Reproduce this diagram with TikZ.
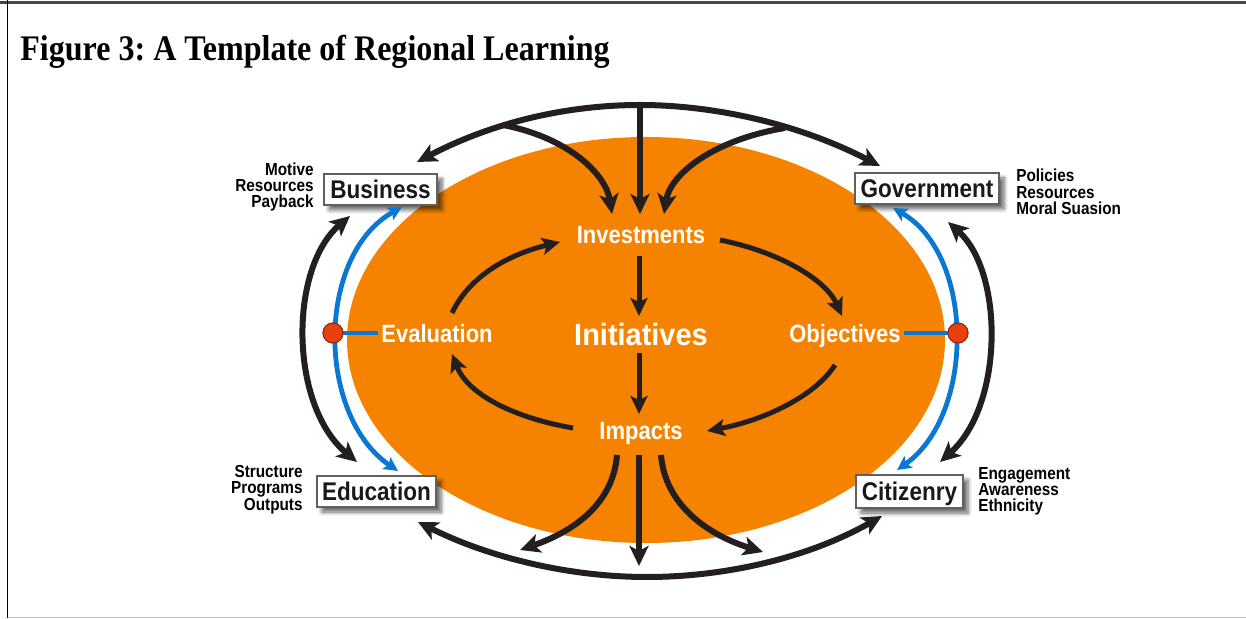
\documentclass[tikz,border=0pt]{standalone}
\usepackage{fontspec}
\usetikzlibrary{arrows.meta,shadows.blur,calc}
\newfontfamily\dsans{Liberation Sans}[FakeStretch=0.88]
\newfontfamily\dsanswide{Liberation Sans}[FakeStretch=0.94]
\newfontfamily\tserif{Liberation Serif}[FakeStretch=0.89]
\definecolor{ovalorange}{HTML}{F68300}
\definecolor{arrowblack}{HTML}{231F20}
\definecolor{linkblue}{HTML}{0A78D2}
\definecolor{dotred}{HTML}{E8400C}
\definecolor{dotrim}{HTML}{8A2A10}
\frenchspacing

\begin{document}
\begin{tikzpicture}[x=0.5pt, y=-0.5pt,
  bigtip/.tip={Stealth[length=10pt,width=9.5pt,inset=2.5pt]},
  midtip/.tip={Stealth[length=9pt,width=8.5pt,inset=2pt]},
  bluetip/.tip={Stealth[length=7pt,width=7pt,inset=1.5pt]},
  flow/.style={draw=arrowblack, line width=3pt, -bigtip},
  twoway/.style={draw=arrowblack, line width=3pt, bigtip-bigtip},
  cycle/.style={draw=arrowblack, line width=2.5pt, -midtip},
  bluearc/.style={draw=linkblue, line width=2.4pt, bluetip-bluetip},
  bluelink/.style={draw=linkblue, line width=2.4pt},
  hub/.style={circle, fill=dotred, draw=dotrim, line width=0.5pt, minimum size=10pt, inner sep=0pt},
  stage/.style={text=white, inner sep=0pt, font=\dsans\bfseries\fontsize{12.5pt}{14pt}\selectfont},
  actor/.style={draw=gray!75!black, line width=0.6pt, fill=white, inner sep=0pt,
    minimum height=15.5pt, text height=9.2pt, text depth=0pt, text=black!90,
    font=\dsans\bfseries\fontsize{12.8pt}{14pt}\selectfont,
    blur shadow={shadow xshift=2.5pt, shadow yshift=-2.5pt, shadow blur radius=2pt,
      shadow blur steps=6, shadow opacity=60}},
  aspect/.style={inner sep=0pt, text=black, font=\dsans\bfseries\fontsize{8.7pt}{8pt}\selectfont}
]
\useasboundingbox (0,0) rectangle (1246,619);

% page frame
\draw[line width=1.5pt, gray!55!black] (0,2.5) -- (1246,2.5);
\draw[line width=0.6pt, black] (7.5,0) -- (7.5,618);
\draw[line width=0.8pt, gray!50] (7.5,617.5) -- (1246,617.5);

% title
\node[anchor=base west, inner sep=0pt, font=\tserif\bfseries\fontsize{18pt}{20pt}\selectfont]
  (title) at (20,61) {Figure 3: A Template of Regional Learning};

% central oval
\fill[ovalorange] (646,340) ellipse [x radius=299pt/2, y radius=203pt/2];

% stage labels on the oval
\node[stage, anchor=base] (inv) at (641,244) {Investments};
\node[anchor=base, text=white, inner sep=0pt, font=\dsanswide\bfseries\fontsize{15.4pt}{17pt}\selectfont]
  (init) at (641,346) {Initiatives};
\node[stage, anchor=base] (eva) at (437,343) {Evaluation};
\node[stage, anchor=base] (obj) at (845,343) {Objectives};
\node[stage, anchor=base] (imp) at (641,440) {Impacts};

% actor boxes
\node[actor, minimum width=56.5pt] (bus) at (380.5,189.5) {Business};
\node[actor, minimum width=72pt]   (gov) at (927,188.5) {Government};
\node[actor, minimum width=59.5pt] (edu) at (376.5,491.5) {Education};
\node[actor, minimum width=53.5pt, minimum height=16.5pt] (cit) at (909.5,491.5) {Citizenry};

% aspects of each actor
\node[aspect, anchor=base east] (busa) at (314,176) {Motive};
\node[aspect, anchor=base east] (busb) at (314,192) {Resources};
\node[aspect, anchor=base east] (busc) at (314,207.5) {Payback};
\node[aspect, anchor=base west] (gova) at (1016,182) {Policies};
\node[aspect, anchor=base west] (govb) at (1016,198.5) {Resources};
\node[aspect, anchor=base west] (govc) at (1016,215) {Moral Suasion};
\node[aspect, anchor=base east] (edua) at (303,478) {Structure};
\node[aspect, anchor=base east] (edub) at (303,494) {Programs};
\node[aspect, anchor=base east] (educ) at (303,510) {Outputs};
\node[aspect, anchor=base west] (cita) at (978,480) {Engagement};
\node[aspect, anchor=base west] (citb) at (978,495.5) {Awareness};
\node[aspect, anchor=base west] (citc) at (978,511) {Ethnicity};

% connector end points
\coordinate (topL) at (417,162);
\coordinate (topC) at (640,105);
\coordinate (topR) at (880,166);
\coordinate (brL) at (503,125);
\coordinate (brR) at (785,128);
\coordinate (inL) at (612,214);
\coordinate (inC) at (640,214);
\coordinate (inR) at (664,214);
\coordinate (botL) at (418,522);
\coordinate (botC) at (647,577);
\coordinate (botR) at (882,516);
\coordinate (outL) at (520,550);
\coordinate (outC) at (639,566);
\coordinate (outR) at (763,552);
\coordinate (impL) at (617,455);
\coordinate (impC) at (639,455);
\coordinate (impR) at (661,455);
\coordinate (busB) at (350,216);
\coordinate (eduB) at (357,462);
\coordinate (govB) at (948,222);
\coordinate (citB) at (940,462);
\coordinate (busU) at (402,207);
\coordinate (eduU) at (398,471);
\coordinate (govU) at (893,208);
\coordinate (citU) at (897,470);
\coordinate (evaL) at (378,333);
\coordinate (objR) at (904,333);

% top: inputs from business and government into investments
\draw[twoway] (topL) .. controls (495,121) and (570,105) .. (topC)
  .. controls (710,105) and (795,122) .. (topR);
\draw[flow] (brL) .. controls (570,138) and (606,175) .. (inL);
\draw[flow] (topC) -- (inC);
\draw[flow] (brR) .. controls (712,140) and (670,175) .. (inR);

% bottom: impacts flow out to education and citizenry
\draw[twoway] (botL) .. controls (490,558) and (570,577) .. (botC)
  .. controls (725,577) and (808,558) .. (botR);
\draw[flow] (impL) .. controls (613,505) and (572,532) .. (outL);
\draw[flow] (impC) -- (outC);
\draw[flow] (impR) .. controls (665,505) and (708,535) .. (outR);

% outer side links
\draw[twoway] (busB) .. controls (289,268) and (289,405) .. (eduB);
\draw[twoway] (govB) .. controls (1004,272) and (1004,405) .. (citB);

% blue links through the hubs
\node[hub] (hubL) at (333,333) {};
\node[hub] (hubR) at (958,333) {};
\draw[bluelink] (hubL.center) -- (evaL);
\draw[bluelink] (objR) -- (hubR.center);
\draw[bluearc] (busU) .. controls (316,255) and (316,415) .. (eduU);
\draw[bluearc] (govU) .. controls (975,255) and (975,415) .. (citU);
\node[hub] at (hubL) {};
\node[hub] at (hubR) {};

% inner cycle
\draw[cycle] (452,313) .. controls (470,275) and (510,254) .. (560,242);
\draw[cycle] (720,240) .. controls (780,252) and (826,280) .. (842,316);
\draw[cycle] (835,365) .. controls (815,396) and (765,420) .. (707,431);
\draw[cycle] (573,428) .. controls (515,418) and (468,395) .. (452,354);
\draw[cycle] (639,256) -- (639,316);
\draw[cycle] (639,353) -- (639,414);
\end{tikzpicture}
\end{document}
